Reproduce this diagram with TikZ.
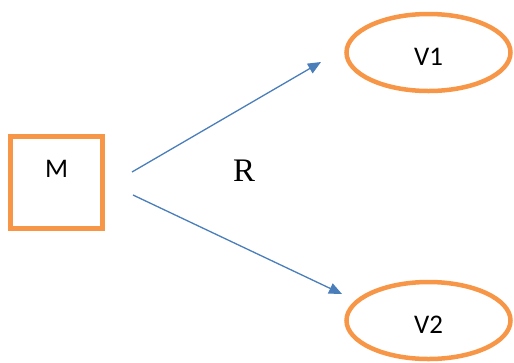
\documentclass[tikz,border=0pt]{standalone}
\usepackage{fontspec}
\usepackage{graphicx}
\setmainfont{Carlito}
\newfontfamily\timesfont{Liberation Serif}
\usetikzlibrary{arrows.meta,shapes.geometric}

\definecolor{boxorange}{HTML}{F79646}
\definecolor{arrowblue}{HTML}{4A7EBB}

\newcommand{\boxtext}[1]{\scalebox{2.7}{#1}}

\begin{document}
\begin{tikzpicture}[x=1bp,y=-1bp]
    \tikzstyle{model} = [draw=boxorange,line width=4.5bp,minimum size=92bp,inner sep=0pt,text height=18bp,text depth=28bp]
    \tikzstyle{view} = [draw=boxorange,line width=4.5bp,ellipse,minimum width=164bp,minimum height=77bp,inner sep=0pt,text height=25bp,text depth=0bp]
    \tikzstyle{rel} = [font=\timesfont]
    \tikzstyle{link} = [draw=arrowblue,line width=1.3bp,-{Triangle[length=13bp,width=11bp]}]
    \useasboundingbox (0,0) rectangle (514,362);
    \node [model] (m) at (56.5, 182.5) {\boxtext{M}};
    \node [view] (v1) at (428.5, 52.5) {\boxtext{V1}};
    \node [view] (v2) at (428.5, 320.5) {\boxtext{V2}};
    \node [rel] (r) at (244, 171) {\scalebox{3.3}{R}};
    \coordinate (m1) at (132, 172);
    \coordinate (m2) at (133, 195);
    \coordinate (t1) at (321, 62);
    \coordinate (t2) at (342, 294);
    \draw [link] (m1) -- (t1);
    \draw [link] (m2) -- (t2);
  \end{tikzpicture}
\end{document}
